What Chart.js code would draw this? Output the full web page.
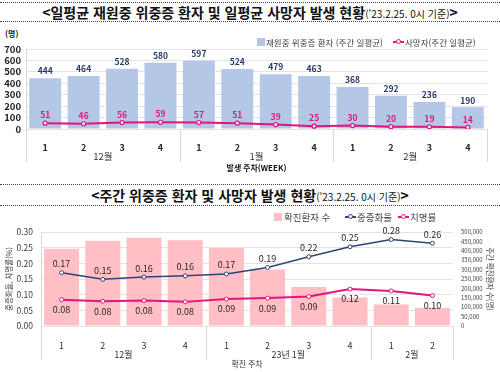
<!DOCTYPE html>
<html lang="ko">
<head>
<meta charset="utf-8">
<script src="https://cdn.jsdelivr.net/npm/chart.js@4.4.1/dist/chart.umd.min.js"></script>
<style>
  html, body { margin: 0; padding: 0; background: #fff; }
  body { width: 500px; height: 372px; position: relative; overflow: hidden;
         font-family: 'Noto Sans CJK KR', 'Noto Sans', sans-serif; color: #222; }
  .title { position: absolute; left: 0; width: 500px; border-top: 1px dotted #444; border-bottom: 1px dotted #444;
           text-align: center; font-size: 14px; font-weight: bold; white-space: nowrap; color: #111; }
  .title small { font-size: 10px; font-weight: normal; }
  #t1 { top: 2px; height: 18px; line-height: 18px; }
  #t2 { top: 184px; height: 20px; line-height: 20px; }
  canvas { position: absolute; left: 0; }
  #c1 { top: 24px; }
  #c2 { top: 206px; }
  .lg { position: absolute; font-size: 8.5px; line-height: 10px; color: #404040; white-space: nowrap; z-index: 2; }
  .box { position: absolute; width: 8px; height: 8px; z-index: 2; }
  .ln { position: absolute; width: 11px; height: 2px; z-index: 2; }
  .dot { position: absolute; left: 3px; top: -2px; width: 3px; height: 3px; border-radius: 50%; background: #fff; border-width: 1px; border-style: solid; }
  #unit { position: absolute; left: 5px; top: 28px; font-size: 8px; font-weight: bold; color: #222; }
</style>
</head>
<body>
<div class="title" id="t1">&lt;일평균 재원중 위중증 환자 및 일평균 사망자 발생 현황<small>('23.2.25. 0시 기준)</small>&gt;</div>
<div id="unit">(명)</div>
<div class="box" style="left:257px;top:38px;background:#b4c7e7"></div>
<div class="lg" style="left:266px;top:37px">재원중 위중증 환자 (주간 일평균)</div>
<div class="ln" style="left:393px;top:41px;background:#e2157f"><div class="dot" style="border-color:#e2157f"></div></div>
<div class="lg" style="left:405px;top:37px">사망자(주간 일평균)</div>
<canvas id="c1" width="500" height="150"></canvas>

<div class="title" id="t2">&lt;주간 위중증 환자 및 사망자 발생 현황<small>('23.2.25. 0시 기준)</small>&gt;</div>
<div class="box" style="left:274px;top:213px;background:#ffbfc4"></div>
<div class="lg" style="left:284px;top:211px;font-size:9.5px;line-height:12px">확진환자 수</div>
<div class="ln" style="left:345px;top:216px;background:#2f4473"><div class="dot" style="border-color:#2f4473"></div></div>
<div class="lg" style="left:357px;top:211px;font-size:9.5px;line-height:12px">중증화율</div>
<div class="ln" style="left:398px;top:216px;background:#e2157f"><div class="dot" style="border-color:#e2157f"></div></div>
<div class="lg" style="left:410px;top:211px;font-size:9.5px;line-height:12px">치명률</div>
<canvas id="c2" width="500" height="166"></canvas>

<script>
// chart 1: daily averages per week
const weeks1 = ['1', '2', '3', '4', '1', '2', '3', '4', '1', '2', '3', '4'];
const months1 = ['12월', '1월', '2월'];
const monthSizes1 = [4, 4, 4];
const countTicks1 = [0, 100, 200, 300, 400, 500, 600, 700];
const severeDaily = [444, 464, 528, 580, 597, 524, 479, 463, 368, 292, 236, 190];
const deathsDaily = [51, 46, 56, 59, 57, 51, 39, 25, 30, 20, 19, 14];

// chart 2: weekly rates
const weeks2 = ['1', '2', '3', '4', '1', '2', '3', '4', '1', '2'];
const months2 = ['12월', '23년 1월', '2월'];
const monthSizes2 = [4, 4, 2];
const rateTicks = [0, 0.05, 0.1, 0.15, 0.2, 0.25, 0.3];
const caseTicks = [0, 50000, 100000, 150000, 200000, 250000, 300000, 350000, 400000, 450000, 500000];
const confirmedWeekly = [411000, 454000, 470000, 456000, 415000, 300000, 207000, 151000, 115000, 97000];
const severeRate = [0.17, 0.149, 0.156, 0.16, 0.166, 0.187, 0.221, 0.253, 0.276, 0.264];
const fatalityRate = [0.084, 0.079, 0.081, 0.077, 0.086, 0.089, 0.094, 0.118, 0.112, 0.097];

const FONT = "'Noto Sans CJK KR', 'Noto Sans', sans-serif";
Chart.defaults.font.family = FONT;
Chart.defaults.animation = false;

const fixedTicks = (list) => (s) => { s.ticks = list.map((v) => ({ value: v })); };

const valueLabels = {
  id: 'valueLabels',
  afterDatasetsDraw(chart) {
    const ctx = chart.ctx;
    chart.data.datasets.forEach((ds, i) => {
      const o = ds.valueLabel;
      if (!o) return;
      const meta = chart.getDatasetMeta(i);
      ctx.save();
      ctx.font = o.font;
      ctx.fillStyle = o.color;
      ctx.textAlign = 'center';
      ctx.textBaseline = 'middle';
      meta.data.forEach((el, j) => {
        ctx.fillText(o.fmt(ds.data[j]), el.x, el.y + o.dy);
      });
      ctx.restore();
    });
  },
};

const groupAxis = {
  id: 'groupAxis',
  afterDraw(chart, args, opts) {
    const x = chart.scales.x;
    const ctx = chart.ctx;
    const step = (x.right - x.left) / chart.data.labels.length;
    ctx.save();
    ctx.strokeStyle = opts.lineColor;
    ctx.lineWidth = 1;
    ctx.fillStyle = opts.color;
    ctx.font = opts.font;
    ctx.textAlign = 'center';
    ctx.textBaseline = 'middle';
    let start = 0;
    const cuts = [0];
    opts.sizes.forEach((n, k) => {
      const cx = x.left + (start + n / 2) * step;
      ctx.fillText(opts.labels[k], cx, x.top + opts.labelY);
      start += n;
      cuts.push(start);
    });
    cuts.forEach((c) => {
      const px = Math.round(x.left + c * step) + 0.5;
      ctx.beginPath();
      ctx.moveTo(px, x.top);
      ctx.lineTo(px, x.top + opts.lineLen);
      ctx.stroke();
    });
    ctx.restore();
  },
};

new Chart(document.getElementById('c1'), {
  type: 'bar',
  data: {
    labels: weeks1,
    datasets: [
      {
        type: 'line',
        label: '사망자(주간 일평균)',
        data: deathsDaily,
        borderColor: '#e2157f',
        borderWidth: 2,
        pointRadius: 2,
        pointBorderWidth: 1.2,
        pointBackgroundColor: '#fff',
        pointBorderColor: '#e2157f',
        order: 1,
        valueLabel: { font: 'bold 8.5px ' + FONT, color: '#e2157f', dy: -8, fmt: (v) => String(v) },
      },
      {
        label: '재원중 위중증 환자 (주간 일평균)',
        data: severeDaily,
        backgroundColor: '#b4c7e7',
        barPercentage: 0.83,
        categoryPercentage: 1,
        order: 2,
        valueLabel: { font: 'bold 8.5px ' + FONT, color: '#243a6b', dy: -7, fmt: (v) => String(v) },
      },
    ],
  },
  options: {
    responsive: false,
    layout: { padding: { top: 25, right: 13, left: 0, bottom: 0 } },
    plugins: {
      legend: { display: false },
      tooltip: { enabled: false },
      groupAxis: { labels: months1, sizes: monthSizes1, labelY: 27, lineLen: 33, font: '9.5px ' + FONT, color: '#333', lineColor: '#d9d9d9' },
    },
    scales: {
      x: {
        grid: { display: false },
        border: { display: false },
        ticks: { color: '#262626', font: { size: 9, weight: 'bold' }, padding: 5 },
        title: { display: true, text: '발생 주차(WEEK)', color: '#111', font: { size: 8, weight: 'bold' }, padding: { top: 0, bottom: 1 } },
        afterFit: (s) => { s.height = 45; },
      },
      y: {
        min: 0,
        max: 700,
        afterBuildTicks: fixedTicks(countTicks1),
        ticks: { autoSkip: false, color: '#222', font: { size: 9.5, weight: 'bold' }, padding: 5 },
        grid: { color: '#e3e3e3', drawTicks: false },
        border: { display: true, color: '#d9d9d9' },
        afterFit: (s) => { s.width = 26; },
      },
    },
  },
  plugins: [valueLabels, groupAxis],
});

new Chart(document.getElementById('c2'), {
  type: 'bar',
  data: {
    labels: weeks2,
    datasets: [
      {
        type: 'line',
        label: '중증화율',
        data: severeRate,
        yAxisID: 'y',
        borderColor: '#2f4473',
        borderWidth: 1.5,
        pointRadius: 2,
        pointBorderWidth: 1,
        pointBackgroundColor: '#fff',
        pointBorderColor: '#2f4473',
        order: 1,
        valueLabel: { font: '9px ' + FONT, color: '#262626', dy: -9, fmt: (v) => v.toFixed(2) },
      },
      {
        type: 'line',
        label: '치명률',
        data: fatalityRate,
        yAxisID: 'y',
        borderColor: '#e2157f',
        borderWidth: 2,
        pointRadius: 2,
        pointBorderWidth: 1,
        pointBackgroundColor: '#fff',
        pointBorderColor: '#e2157f',
        order: 1,
        valueLabel: { font: '9px ' + FONT, color: '#262626', dy: 10, fmt: (v) => v.toFixed(2) },
      },
      {
        label: '확진환자 수',
        data: confirmedWeekly,
        yAxisID: 'y1',
        backgroundColor: '#ffbfc4',
        barPercentage: 0.85,
        categoryPercentage: 1,
        order: 2,
      },
    ],
  },
  options: {
    responsive: false,
    layout: { padding: { top: 26, right: 0, left: 0, bottom: 0 } },
    plugins: {
      legend: { display: false },
      tooltip: { enabled: false },
      groupAxis: { labels: months2, sizes: monthSizes2, labelY: 29, lineLen: 34, font: '9px ' + FONT, color: '#333', lineColor: '#d9d9d9' },
    },
    scales: {
      x: {
        grid: { display: false },
        border: { display: false },
        ticks: { color: '#333', font: { size: 9 }, padding: 6 },
        title: { display: true, text: '확진 주차', color: '#333', font: { size: 8 }, padding: { top: 0, bottom: 3 } },
        afterFit: (s) => { s.height = 46; },
      },
      y: {
        position: 'left',
        min: 0,
        max: 0.3,
        afterBuildTicks: fixedTicks(rateTicks),
        ticks: { autoSkip: false, color: '#404040', font: { size: 8.5 }, padding: 8, callback: (v) => v.toFixed(2) },
        grid: { color: '#e3e3e3', drawTicks: false },
        border: { display: true, color: '#d9d9d9' },
        title: { display: true, text: '중증화율, 치명률(%)', color: '#404040', font: { size: 7.5 }, padding: { top: 5, bottom: 0 } },
        afterFit: (s) => { s.width = 41; },
      },
      y1: {
        position: 'right',
        min: 0,
        max: 500000,
        afterBuildTicks: fixedTicks(caseTicks),
        ticks: { autoSkip: false, color: '#404040', font: { size: 6 }, padding: 8, callback: (v) => v.toLocaleString('en-US') },
        grid: { drawOnChartArea: false, drawTicks: false },
        border: { display: false },
        title: { display: true, text: '주간 확진환자 수(명)', color: '#404040', font: { size: 7.5 }, padding: { top: 6, bottom: 0 } },
        afterFit: (s) => { s.width = 47; },
      },
    },
  },
  plugins: [valueLabels, groupAxis],
});
</script>
</body>
</html>
